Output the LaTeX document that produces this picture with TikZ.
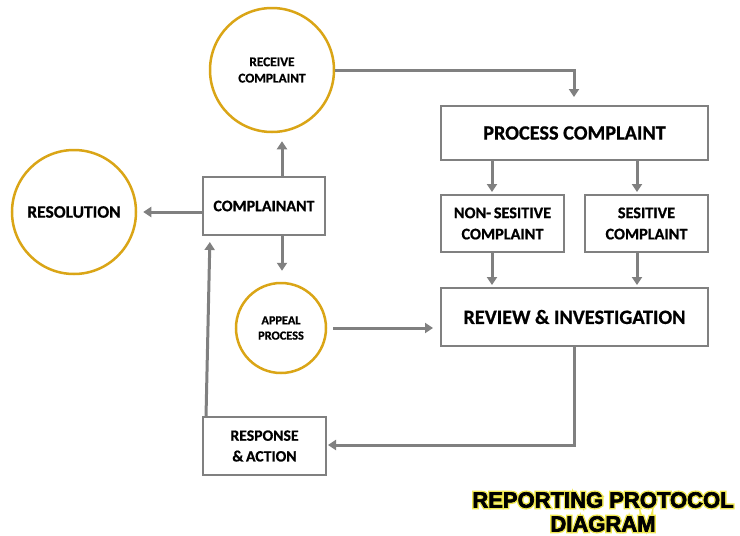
\documentclass[tikz,border=0pt]{standalone}
\usepackage{fontspec}
\setmainfont{Carlito}[BoldFeatures={FakeBold=0.8}]
\newfontfamily\titlefont{Liberation Sans}[BoldFeatures={FakeBold=3}]
\newfontfamily\glowfont{Liberation Sans}[BoldFeatures={FakeBold=16}]
\usetikzlibrary{arrows.meta}
\definecolor{linegray}{RGB}{128,128,128}
\definecolor{ringgold}{RGB}{218,165,22}
\definecolor{glow}{RGB}{240,232,80}
\begin{document}
\begin{tikzpicture}[x=1pt,y=-1pt,
  every node/.style={align=center, inner sep=0pt},
  stepbox/.style={draw=linegray, line width=2pt, fill=white},
  ring/.style={draw=ringgold, line width=2.5pt, circle, fill=white},
  flow/.style={draw=linegray, line width=3pt, -{Triangle[length=8pt,width=10pt]}},
  tx/.style={font=\bfseries\fontsize{#1}{#1}\selectfont}
]
\useasboundingbox (0,0) rectangle (740,536);
\fill[white] (0,0) rectangle (740,536);

% circles
\node[ring, minimum size=124pt, tx=13.3] (receive) at (272,70) {RECEIVE\\[3pt]COMPLAINT};
\node[ring, minimum size=124pt, tx=17.5] (resolution) at (74,212) {RESOLUTION};
\node[ring, minimum size=90pt, tx=12.3] (appeal) at (281,328) {APPEAL\\[3pt]PROCESS};

% boxes
\node[stepbox, minimum width=122pt, minimum height=58pt, tx=16] (complainant) at (264,206) {COMPLAINANT};
\node[stepbox, minimum width=267pt, minimum height=54pt, tx=20.3] (process) at (574.5,133) {PROCESS COMPLAINT};
\node[stepbox, minimum width=123pt, minimum height=57pt, tx=16.2] (nons) at (502.5,223.5) {NON-\,SESITIVE\\[5pt]COMPLAINT};
\node[stepbox, minimum width=123pt, minimum height=57pt, tx=16.2] (sens) at (646.5,223.5) {SESITIVE\\[5pt]COMPLAINT};
\node[stepbox, minimum width=267pt, minimum height=58pt, tx=20.3] (review) at (574.5,317) {REVIEW \& INVESTIGATION};
\node[stepbox, minimum width=123pt, minimum height=58pt, tx=15.7] (response) at (264.5,446) {RESPONSE\\[5pt]\&\,ACTION};

% connectors
\coordinate (rpTurn) at (574,70);
\draw[flow, shorten >=8pt] (receive.east) -- (rpTurn) -- (rpTurn |- process.north);
\draw[flow, shorten >=5pt] (492,160) -- (492,197);
\draw[flow, shorten >=5pt] (637,160) -- (637,197);
\draw[flow, shorten >=5pt] (nons.south -| 492,0) -- (492,290);
\draw[flow, shorten >=5pt] (sens.south -| 637,0) -- (637,290);
\draw[flow, shorten >=8pt] (complainant.north -| 282,0) -- (receive.south -| 282,0);
\draw[flow, shorten >=6pt] (complainant.west |- resolution.east) -- (resolution.east);
\draw[flow, shorten >=11pt] (complainant.south -| 282,0) -- (appeal.north -| 282,0);
\draw[flow, shorten <=6pt, shorten >=7pt] (appeal.east) -- (appeal.east -| review.west);
\coordinate (rrTurn) at (574,445);
\draw[flow, shorten >=1pt] (review.south -| rrTurn) -- (rrTurn) -- (rrTurn -| response.east);
\coordinate (respTop) at (206,417);
\draw[flow, shorten >=7pt] (respTop) -- (210,235);

% title: an emboldened yellow copy sits under the black lettering as a glow
\node[text=glow, font=\glowfont\bfseries\fontsize{22}{24}\selectfont] (titleglow) at (603,512) {REPORTING PROTOCOL\\DIAGRAM};
\node[font=\titlefont\bfseries\fontsize{22}{24}\selectfont] (title) at (603,512) {REPORTING PROTOCOL\\DIAGRAM};
\end{tikzpicture}
\end{document}
